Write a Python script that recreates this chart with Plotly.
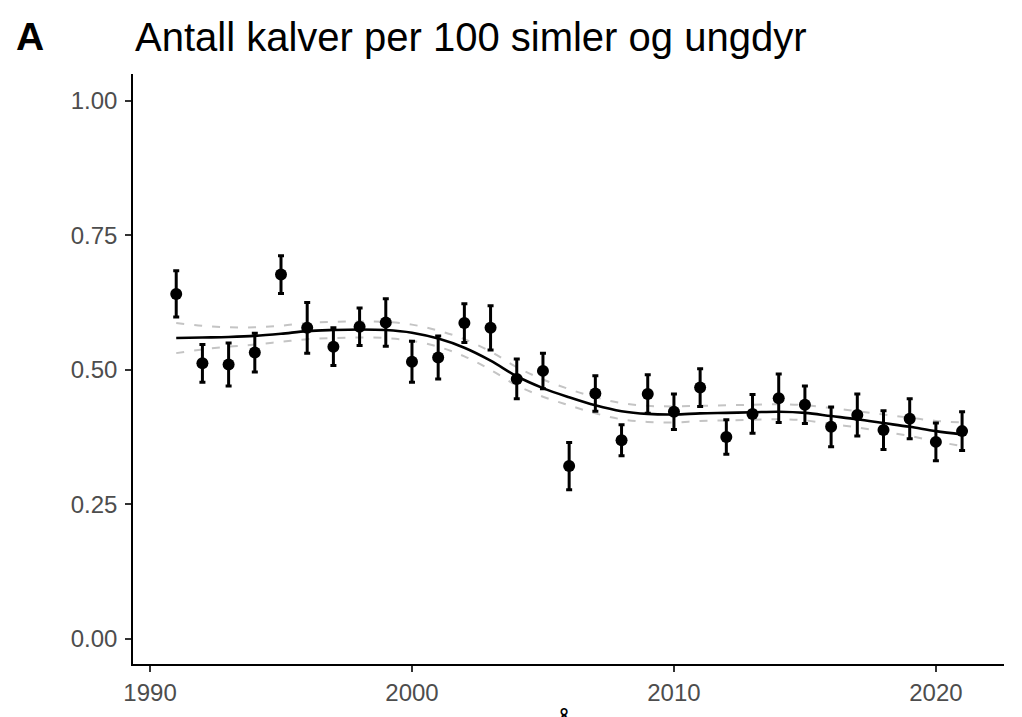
import plotly.graph_objects as go

# ---- data ----
years = list(range(1991, 2022))
ratio = [0.641, 0.512, 0.510, 0.532, 0.677, 0.578, 0.543, 0.580, 0.588, 0.515,
         0.523, 0.587, 0.578, 0.483, 0.498, 0.321, 0.456, 0.369, 0.455, 0.422,
         0.467, 0.375, 0.418, 0.447, 0.435, 0.394, 0.416, 0.388, 0.409, 0.366,
         0.386]
err = [0.043, 0.035, 0.040, 0.036, 0.035, 0.047, 0.035, 0.035, 0.044, 0.038,
       0.040, 0.036, 0.041, 0.037, 0.033, 0.044, 0.033, 0.029, 0.036, 0.033,
       0.035, 0.032, 0.036, 0.045, 0.035, 0.037, 0.039, 0.036, 0.037, 0.035,
       0.036]
smooth = [0.559, 0.560, 0.561, 0.563, 0.567, 0.572, 0.574, 0.575, 0.574, 0.569,
          0.558, 0.541, 0.517, 0.488, 0.466, 0.449, 0.434, 0.423, 0.418, 0.417,
          0.419, 0.420, 0.421, 0.422, 0.420, 0.414, 0.408, 0.401, 0.394, 0.386,
          0.380]
ci_half = [0.028, 0.022, 0.018, 0.016, 0.015, 0.015, 0.015, 0.015, 0.015, 0.015,
           0.015, 0.016, 0.017, 0.017, 0.016, 0.015, 0.015, 0.015, 0.015, 0.015,
           0.014, 0.014, 0.014, 0.014, 0.014, 0.015, 0.015, 0.016, 0.017, 0.019,
           0.022]
ci_upper = [s + h for s, h in zip(smooth, ci_half)]
ci_lower = [s - h for s, h in zip(smooth, ci_half)]

x_ticks = [1990, 2000, 2010, 2020]
y_ticks = [0.00, 0.25, 0.50, 0.75, 1.00]
y_ticklabels = ["0.00", "0.25", "0.50", "0.75", "1.00"]

title_text = "Antall kalver per 100 simler og ungdyr"
panel_tag = "A"
x_title = "År"

# ---- figure ----
# the page body adds an 8px offset; positions below are screen pixels
OFF = 8
W, H = 1022, 717
ML, MT = 133 - OFF, 74 - OFF
PW, PH = 871, 590
MR, MB = W - ML - PW, H - MT - PH

fig = go.Figure()

for ci in (ci_upper, ci_lower):
    fig.add_trace(go.Scatter(
        x=years, y=ci, mode="lines", line=dict(color="#c4c4c4", width=2,
                                               dash="8px,10px", shape="spline"),
        hoverinfo="skip", showlegend=False))

fig.add_trace(go.Scatter(
    x=years, y=smooth, mode="lines",
    line=dict(color="black", width=2.6, shape="spline"),
    showlegend=False))

fig.add_trace(go.Scatter(
    x=years, y=ratio, mode="markers",
    marker=dict(color="black", size=12),
    error_y=dict(type="data", array=err, visible=True, color="black",
                 thickness=3, width=3),
    showlegend=False))

def px_x(p):
    return (p - OFF - ML) / PW

def px_y(p):
    return (MT + PH - (p - OFF)) / PH

fig.update_layout(
    width=W, height=H,
    margin=dict(l=ML, r=MR, t=MT, b=MB, autoexpand=False),
    paper_bgcolor="white", plot_bgcolor="white",
    font=dict(family="Liberation Sans, Arial, sans-serif"),
    xaxis=dict(range=[1989.35, 2022.6], tickmode="array", tickvals=x_ticks,
               automargin=False,
               showgrid=False, zeroline=False, showline=True,
               linecolor="black", linewidth=1.6, ticks="outside",
               ticklen=6, tickwidth=1.6, tickcolor="#333333",
               tickfont=dict(size=24, color="#4d4d4d")),
    yaxis=dict(range=[-0.047, 1.05], tickmode="array", tickvals=y_ticks,
               ticktext=y_ticklabels, automargin=False, ticklabelstandoff=3,
               showgrid=False, zeroline=False, showline=True,
               linecolor="black", linewidth=1.6, ticks="outside",
               ticklen=6, tickwidth=1.6, tickcolor="#333333",
               tickfont=dict(size=24, color="#4d4d4d")),
    annotations=[
        dict(text=title_text, xref="paper", yref="paper",
             x=px_x(133), y=px_y(37), xanchor="left", yanchor="middle",
             showarrow=False, font=dict(size=40, color="black")),
        dict(text="<b>" + panel_tag + "</b>", xref="paper", yref="paper",
             x=px_x(14), y=px_y(37), xanchor="left", yanchor="middle",
             showarrow=False, font=dict(size=39, color="black")),
        dict(text=x_title, xref="paper", yref="paper",
             x=0.5, y=px_y(705), xanchor="center", yanchor="top",
             showarrow=False, font=dict(size=30, color="black")),
    ],
)

fig.write_html("out.html")
